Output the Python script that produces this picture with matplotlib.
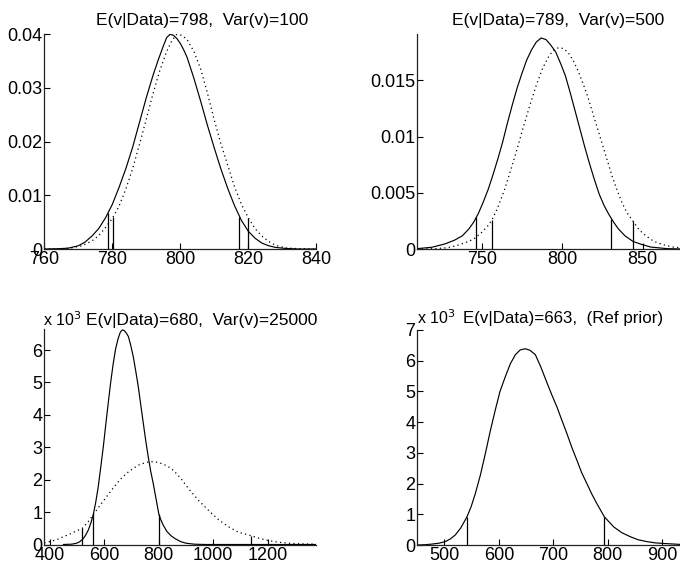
import matplotlib
matplotlib.use("Agg")
import matplotlib.pyplot as plt

plt.rcParams['font.family'] = ['Liberation Sans', 'DejaVu Sans']

# ---------------- data ----------------
# Panel 1: E(v|Data)=798, Var(v)=100
p1_x_post = [760, 764, 767, 770, 772, 774, 776, 778, 780, 782, 784, 786, 788, 790, 792, 793.5,
             795, 796, 797, 798, 799, 800, 801, 802, 804, 806, 808, 810, 812, 814, 816, 818, 820,
             822, 824, 826, 828, 831, 835, 840]
p1_y_post = [0, 0.00005, 0.00015, 0.0006, 0.0013, 0.0024, 0.0038, 0.0058, 0.0083, 0.0115, 0.0150,
             0.0190, 0.0236, 0.0282, 0.0324, 0.0352, 0.0378, 0.0394, 0.0400, 0.0398, 0.0392,
             0.0383, 0.0371, 0.0357, 0.0318, 0.0275, 0.0230, 0.0188, 0.0148, 0.0112, 0.0080,
             0.0053, 0.0033, 0.0020, 0.0011, 0.0006, 0.0003, 0.0001, 0.0, 0.0]
p1_x_prior = [760, 765, 768, 771, 774, 776, 778, 780, 782, 784, 786, 788, 790, 792, 794, 796,
              797.5, 799, 800.5, 802, 804, 806, 808, 810, 812, 814, 816, 818, 820, 822, 824, 826,
              828, 831, 835, 840]
p1_y_prior = [0, 0.00005, 0.0002, 0.0006, 0.0015, 0.0025, 0.0040, 0.0057, 0.0080, 0.0112, 0.0150,
              0.0195, 0.0242, 0.0290, 0.0333, 0.0368, 0.0388, 0.0400, 0.0398, 0.0390, 0.0368,
              0.0335, 0.0290, 0.0240, 0.0195, 0.0155, 0.0115, 0.0083, 0.0058, 0.0038, 0.0024,
              0.0014, 0.0007, 0.0002, 0.00005, 0.0]
p1_vx = [778.8, 780.3, 817.2, 819.9]
p1_vy = [0.0067, 0.0059, 0.0060, 0.0058]
p1_yticks = [0, 0.01, 0.02, 0.03, 0.04]
p1_yticklabels = ['0', '0.01', '0.02', '0.03', '0.04']
p1_xticks = [760, 780, 800, 820, 840]

# Panel 2: E(v|Data)=789, Var(v)=500
p2_x_post = [710, 719, 727, 733, 738, 742, 745, 748, 751, 754, 757, 760, 763, 766, 769, 772, 775,
             778, 781, 784, 787, 790, 793, 796, 799, 802, 805, 808, 811, 814, 817, 820, 823, 826,
             829, 832, 835, 839, 844, 849, 855, 865, 879]
p2_y_post = [0.00006, 0.00018, 0.00047, 0.0008, 0.0012, 0.0018, 0.0024, 0.0032, 0.0042, 0.0053,
             0.0066, 0.0080, 0.0095, 0.0112, 0.0128, 0.0143, 0.0156, 0.0168, 0.0177, 0.0184,
             0.01875, 0.0186, 0.0181, 0.0175, 0.0165, 0.0154, 0.0139, 0.0123, 0.0107, 0.0091,
             0.0076, 0.0062, 0.0049, 0.0039, 0.0031, 0.0024, 0.0018, 0.0012, 0.0007, 0.00045,
             0.0002, 0.00006, 0.00001]
p2_x_prior = [710, 720, 728, 734, 740, 745, 750, 754, 756.4, 760, 764, 768, 772, 776, 780, 784,
              788, 792, 795, 798, 801, 804, 807, 810, 813, 816, 819, 822, 825, 828, 831, 834, 837,
              840, 844, 848, 852, 857, 863, 869, 879]
p2_y_prior = [0.00002, 0.00005, 0.00013, 0.0003, 0.0006, 0.0009, 0.0015, 0.0021, 0.0026, 0.0037,
              0.0052, 0.0070, 0.0089, 0.0109, 0.0128, 0.0146, 0.0161, 0.0172, 0.0177, 0.0179,
              0.0178, 0.0174, 0.0167, 0.0158, 0.0147, 0.0135, 0.0121, 0.0107, 0.0093, 0.0079,
              0.0065, 0.0053, 0.0042, 0.0033, 0.0025, 0.0017, 0.0012, 0.0007, 0.0004, 0.0002,
              0.00006]
p2_vx = [746.7, 756.4, 830.6, 844.1]
p2_vy = [0.00286, 0.00264, 0.00273, 0.0025]
p2_yticks = [0, 0.005, 0.01, 0.015]
p2_yticklabels = ['0', '0.005', '0.01', '0.015']
p2_xticks = [750, 800, 850]

# Panel 3: E(v|Data)=680, Var(v)=25000   (values in units of 1e-3)
p3_x_post = [449, 480, 498, 510, 522, 531, 541, 550, 559, 568, 577, 586, 596, 605, 614, 623, 632,
             641, 650, 658, 664, 668, 673, 680, 688, 697, 706, 715, 724, 733, 743, 752, 761, 770,
             780, 790, 800, 808, 816, 830, 845, 860, 880, 900, 930, 970, 1379]
p3_y_post = [0, 0.01, 0.04, 0.09, 0.18, 0.29, 0.45, 0.66, 0.92, 1.30, 1.76, 2.35, 3.02, 3.70,
             4.36, 5.00, 5.56, 6.03, 6.34, 6.54, 6.61, 6.62, 6.60, 6.53, 6.42, 6.14, 5.80, 5.36,
             4.90, 4.35, 3.74, 3.20, 2.71, 2.27, 1.86, 1.40, 0.94, 0.75, 0.60, 0.40, 0.27, 0.18,
             0.09, 0.04, 0.01, 0, 0]
p3_x_prior = [379, 400, 425, 449, 475, 500, 518.8, 540, 559, 585, 608.5, 633, 657.4, 682, 706.3,
              728, 749.3, 765, 779.8, 798, 816.5, 835, 853.3, 880, 908.5, 945.2, 982, 1018.8,
              1055.5, 1092.3, 1139, 1170, 1202.6, 1240, 1276, 1320, 1379]
p3_y_prior = [0.05, 0.09, 0.15, 0.24, 0.33, 0.43, 0.50, 0.70, 0.92, 1.22, 1.48, 1.75, 2.0, 2.20,
              2.35, 2.46, 2.52, 2.555, 2.56, 2.53, 2.48, 2.40, 2.29, 2.05, 1.73, 1.37, 1.06, 0.77,
              0.55, 0.38, 0.27, 0.19, 0.12, 0.07, 0.04, 0.02, 0.01]
p3_vx = [518.8, 559.2, 799.6, 1139]
p3_vy = [0.50, 0.93, 0.94, 0.27]
p3_yticks = [0, 1, 2, 3, 4, 5, 6]
p3_xticks = [400, 600, 800, 1000, 1200]

# Panel 4: E(v|Data)=663, (Ref prior)   (values in units of 1e-3)
p4_x_post = [450, 465, 477, 490, 501.5, 511, 520, 530, 541.4, 549, 556.6, 566, 575, 584, 593.4,
             602, 611.8, 621, 630.1, 639, 648.5, 657, 666.9, 677, 688.4, 697, 706.8, 716, 725.2,
             734, 743.6, 752, 762, 771, 780.3, 793.8, 811, 826, 841.5, 856, 872.2, 887, 903,
             932.9, 950]
p4_y_post = [0, 0.01, 0.03, 0.06, 0.11, 0.20, 0.33, 0.56, 0.92, 1.25, 1.67, 2.28, 2.97, 3.70,
             4.40, 5.00, 5.48, 5.90, 6.19, 6.35, 6.39, 6.34, 6.20, 5.80, 5.28, 4.90, 4.49, 4.05,
             3.62, 3.18, 2.75, 2.36, 1.99, 1.65, 1.34, 0.92, 0.59, 0.40, 0.27, 0.17, 0.11, 0.07,
             0.05, 0.02, 0.01]
p4_vx = [541.4, 793.8]
p4_vy = [0.92, 0.92]
p4_yticks = [0, 1, 2, 3, 4, 5, 6, 7]
p4_xticks = [500, 600, 700, 800, 900]

titles = ['E(v|Data)=798,  Var(v)=100', 'E(v|Data)=789,  Var(v)=500',
          'E(v|Data)=680,  Var(v)=25000', 'E(v|Data)=663,  (Ref prior)']
exp_label = r'x 10$^3$'

# ---------------- figure ----------------
W, H = 680, 561
fig = plt.figure(figsize=(W / 100, H / 100), dpi=100)


def px_axes(left, top, right, bottom):
    return fig.add_axes([left / W, 1 - bottom / H, (right - left) / W, (bottom - top) / H])


def style(ax):
    for s in ['top', 'right']:
        ax.spines[s].set_visible(False)
    for s in ['left', 'bottom']:
        ax.spines[s].set_linewidth(0.9)
        ax.spines[s].set_color('#222222')
    ax.tick_params(direction='in', length=4, width=0.8, labelsize=13, pad=1.5, colors='black')


solid_kw = dict(color='black', lw=0.85)
dot_kw = dict(color='black', lw=0.9, linestyle=(0, (1, 2.6)))
vl_kw = dict(colors='black', lw=0.9)

ax1 = px_axes(44.3, 34, 316.3, 249)
ax1.plot(p1_x_prior, p1_y_prior, **dot_kw)
ax1.plot(p1_x_post, p1_y_post, **solid_kw)
ax1.vlines(p1_vx, 0, p1_vy, **vl_kw)
ax1.set_xlim(760, 840)
ax1.set_ylim(0, 0.04005)
ax1.set_xticks(p1_xticks)
ax1.set_yticks(p1_yticks)
ax1.set_yticklabels(p1_yticklabels)
style(ax1)

ax2 = px_axes(417.3, 34, 689.3, 249.3)
ax2.plot(p2_x_prior, p2_y_prior, **dot_kw)
ax2.plot(p2_x_post, p2_y_post, **solid_kw)
ax2.vlines(p2_vx, 0, p2_vy, **vl_kw)
ax2.set_xlim(710, 879)
ax2.set_ylim(0, 0.0191)
ax2.set_xticks(p2_xticks)
ax2.set_yticks(p2_yticks)
ax2.set_yticklabels(p2_yticklabels)
style(ax2)

ax3 = px_axes(44.3, 329.3, 316.3, 544.5)
ax3.plot(p3_x_prior, p3_y_prior, **dot_kw)
ax3.plot(p3_x_post, p3_y_post, **solid_kw)
ax3.vlines(p3_vx, 0, p3_vy, **vl_kw)
ax3.set_xlim(379, 1379)
ax3.set_ylim(0, 6.64)
ax3.set_xticks(p3_xticks)
ax3.set_yticks(p3_yticks)
style(ax3)

ax4 = px_axes(417.3, 330, 689.3, 545)
ax4.plot(p4_x_post, p4_y_post, **solid_kw)
ax4.vlines(p4_vx, 0, p4_vy, **vl_kw)
ax4.set_xlim(450, 950)
ax4.set_ylim(0, 7)
ax4.set_xticks(p4_xticks)
ax4.set_yticks(p4_yticks)
style(ax4)

# titles
for (cx, cy, fs), t in zip([(202, 20, 12.5), (558, 20, 12.5), (202, 320, 12.5), (563, 318, 12.2)],
                           titles):
    fig.text(cx / W, 1 - cy / H, t, ha='center', va='center', fontsize=fs)

fig.text(43 / W, 1 - 320 / H, exp_label, ha='left', va='center', fontsize=11.5)
fig.text(417 / W, 1 - 318 / H, exp_label, ha='left', va='center', fontsize=11.5)

fig.savefig('out.png', dpi=100)
